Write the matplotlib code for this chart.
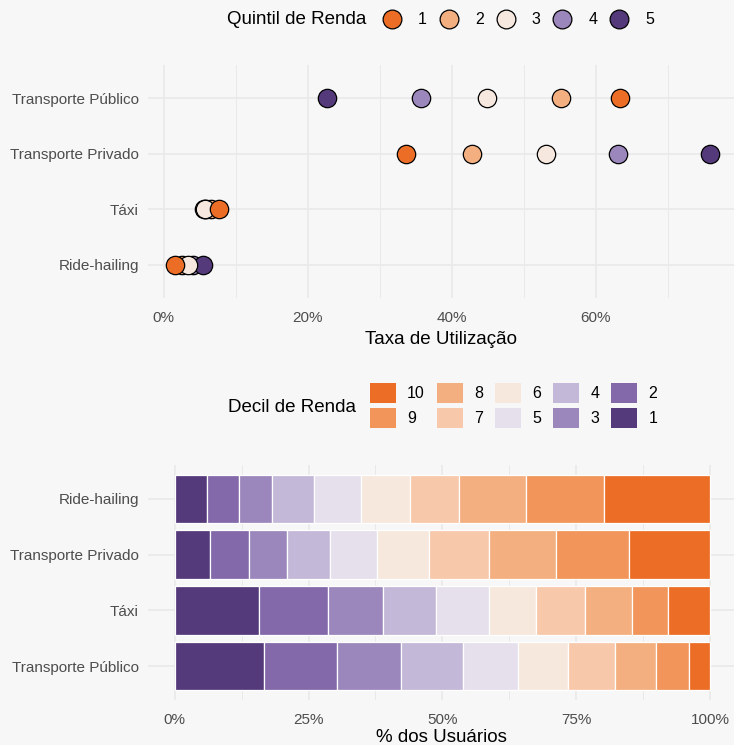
import matplotlib
matplotlib.use("Agg")
import matplotlib.pyplot as plt
from matplotlib.lines import Line2D
from matplotlib.patches import Patch
from matplotlib.ticker import FixedLocator, FuncFormatter

plt.rcParams['font.family'] = ['Liberation Sans', 'DejaVu Sans']

# ── Data ──────────────────────────────────────────────────────────────────────
modes_top = ["Ride-hailing", "Táxi", "Transporte Privado", "Transporte Público"]
quintiles = ["1", "2", "3", "4", "5"]
# utilisation rate (%) by quintile, one list per mode (same order as modes_top)
rate_ride = [1.5, 2.5, 3.4, 4.0, 5.5]
rate_taxi = [7.6, 6.5, 5.7, 5.6, 5.8]
rate_priv = [33.6, 42.8, 53.1, 63.1, 75.8]
rate_publ = [63.3, 55.2, 44.9, 35.7, 22.7]
quintile_colors = ["#EC6E26", "#F3AF80", "#F6E8DE", "#9B87BC", "#553A7B"]

modes_bot = ["Transporte Público", "Táxi", "Transporte Privado", "Ride-hailing"]
deciles = [str(i) for i in range(1, 11)]
# share of users (%) by decile 1..10
share_publ = [16.6, 13.7, 12.0, 11.5, 10.3, 9.4, 8.7, 7.8, 6.0, 4.0]
share_taxi = [15.7, 13.0, 10.2, 10.0, 9.9, 8.7, 9.2, 8.7, 6.7, 7.9]
share_priv = [6.6, 7.2, 7.1, 8.1, 8.7, 9.8, 11.3, 12.4, 13.7, 15.1]
share_ride = [6.0, 6.0, 6.1, 8.0, 8.7, 9.2, 9.2, 12.5, 14.5, 19.8]
decile_colors = ["#553A7B", "#8369AA", "#9B87BB", "#C4B8D8", "#E5E0EC",
                 "#F6E8DD", "#F7C8AA", "#F3AF80", "#F1955B", "#EC6E26"]

BG = "#F7F7F7"
GRID = "#E9E9E9"
TICK = "#4D4D4D"

W, H = 734, 745
fig = plt.figure(figsize=(W / 100, H / 100), dpi=100, facecolor=BG)


def style(ax):
    ax.set_facecolor(BG)
    for s in ax.spines.values():
        s.set_visible(False)
    ax.tick_params(length=0, labelsize=11, labelcolor=TICK)
    ax.tick_params(axis="x", pad=9)
    ax.tick_params(axis="y", pad=6.5)
    ax.grid(True, which="major", color=GRID, linewidth=1.2)
    ax.grid(True, which="minor", axis="x", color=GRID, linewidth=0.7)
    ax.set_axisbelow(True)


pct = FuncFormatter(lambda v, _: f"{v:.0f}%")

# ── Top: dot plot ─────────────────────────────────────────────────────────────
ax1 = fig.add_axes([148 / W, 1 - 298 / H, (W - 148) / W, 233 / H])
style(ax1)
rates = [rate_ride, rate_taxi, rate_priv, rate_publ]
draw_order = [3, 4, 1, 2, 0]  # quintile index: 4,5,2,3,1 (1 on top)
for z, qi in enumerate(draw_order):
    xs = [r[qi] for r in rates]
    ax1.scatter(xs, range(len(modes_top)), s=175, color=quintile_colors[qi],
                edgecolor="black", linewidth=0.9, zorder=3 + z)
ax1.set_yticks(range(len(modes_top)))
ax1.set_yticklabels(modes_top)
ax1.set_ylim(-0.6, 3.6)
ax1.set_xlim(-2.2, 79.2)
ax1.xaxis.set_major_locator(FixedLocator([0, 20, 40, 60]))
ax1.xaxis.set_minor_locator(FixedLocator([10, 30, 50, 70]))
ax1.xaxis.set_major_formatter(pct)
ax1.tick_params(axis="x", which="minor", length=0)
ax1.set_xlabel("Taxa de Utilização", fontsize=13.5, labelpad=4.5)

# ── Bottom: stacked bars ──────────────────────────────────────────────────────
ax2 = fig.add_axes([148 / W, 1 - 700 / H, (W - 148) / W, 235 / H])
style(ax2)
shares = [share_publ, share_taxi, share_priv, share_ride]
left = [0.0] * len(modes_bot)
for di in range(len(deciles)):
    vals = [s[di] for s in shares]
    ax2.barh(range(len(modes_bot)), vals, left=left, height=0.86,
             color=decile_colors[di], edgecolor="white", linewidth=0.9, zorder=3)
    left = [l + v for l, v in zip(left, vals)]
ax2.set_yticks(range(len(modes_bot)))
ax2.set_yticklabels(modes_bot)
ax2.set_ylim(-0.6, 3.6)
ax2.set_xlim(-5, 104.5)
ax2.xaxis.set_major_locator(FixedLocator([0, 25, 50, 75, 100]))
ax2.xaxis.set_minor_locator(FixedLocator([12.5, 37.5, 62.5, 87.5]))
ax2.xaxis.set_major_formatter(pct)
ax2.tick_params(axis="x", which="minor", length=0)
ax2.set_xlabel("% dos Usuários", fontsize=13.5, labelpad=2)

# ── Legends ───────────────────────────────────────────────────────────────────
fig.text(227 / W, 1 - 20 / H, "Quintil de Renda", fontsize=13.5,
         ha="left", va="center")
q_handles = [Line2D([], [], marker="o", linestyle="none", markersize=13.5,
                    markerfacecolor=c, markeredgecolor="black",
                    markeredgewidth=0.9) for c in quintile_colors]
fig.legend(q_handles, quintiles, loc="center left",
           bbox_to_anchor=(383 / W, 1 - 20 / H), ncol=5, frameon=False,
           fontsize=11.5, handlelength=1.15, handletextpad=1.05,
           columnspacing=0.8, borderpad=0, borderaxespad=0)

fig.text(228 / W, 1 - 407 / H, "Decil de Renda", fontsize=13.5,
         ha="left", va="center")
d_handles = [Patch(facecolor=c, edgecolor="none") for c in decile_colors[::-1]]
fig.legend(d_handles, deciles[::-1], loc="center left",
           bbox_to_anchor=(370 / W, 1 - 405.5 / H), ncol=5, frameon=False,
           fontsize=11.5, handlelength=1.63, handleheight=1.57,
           handletextpad=0.7, columnspacing=0.75, labelspacing=0.32,
           borderpad=0, borderaxespad=0)

fig.savefig("out.png", dpi=100, facecolor=BG)
